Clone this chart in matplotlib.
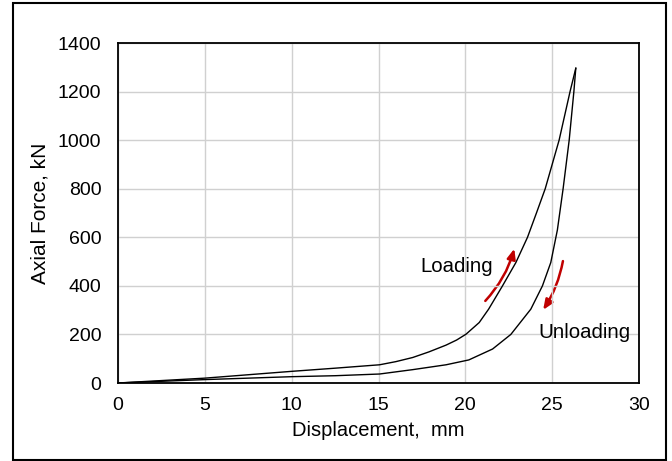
import matplotlib.pyplot as plt
from matplotlib.patches import Rectangle, FancyArrowPatch

plt.rcParams['font.family'] = ['Liberation Sans', 'DejaVu Sans']

# loading branch (displacement mm, axial force kN)
load_disp = [0, 1.0, 2.5, 5, 7.5, 10, 12.5, 15.06, 16.0, 16.97, 17.9, 18.89, 19.5, 20.04,
             20.8, 21.34, 22.14, 22.91, 23.58, 24.1, 24.6, 25.4, 26.03, 26.36]
load_force = [0, 4, 10, 20, 34, 48, 61, 75, 88, 105, 128, 156, 177, 201,
              249, 304, 400, 496, 600, 701, 800, 1000, 1200, 1296]

# unloading branch
unload_disp = [26.36, 26.25, 25.98, 25.63, 25.3, 24.92, 24.44, 23.77, 22.62, 21.57,
               20.2, 18.89, 16.97, 15.06, 12.5, 10, 7.5, 5, 2.5, 1.0, 0]
unload_force = [1296, 1200, 1000, 800, 630, 496, 400, 304, 200, 140,
                95, 75, 55, 37, 30, 26, 20, 14, 7, 3, 0]

x_ticks = [0, 5, 10, 15, 20, 25, 30]
y_ticks = [0, 200, 400, 600, 800, 1000, 1200, 1400]

fig = plt.figure(figsize=(6.72, 4.61), dpi=100)
ax = fig.add_axes([118/672, 78/461, 521/672, 340/461])

ax.plot(load_disp, load_force, color='black', lw=1.0)
ax.plot(unload_disp, unload_force, color='black', lw=1.0)

ax.set_xlim(0, 30)
ax.set_ylim(0, 1400)
ax.set_xticks(x_ticks)
ax.set_yticks(y_ticks)
ax.tick_params(length=0, labelsize=14)
ax.tick_params(axis='x', pad=10)
ax.tick_params(axis='y', pad=12)
ax.grid(True, color='#d0d0d0', lw=1.0)
for s in ax.spines.values():
    s.set_linewidth(1.3)
ax.set_xlabel('Displacement,  mm', fontsize=14.5, labelpad=5)
ax.set_ylabel('Axial Force, kN', fontsize=15, labelpad=6)

# direction arrows
red = '#c00000'
ax.add_patch(FancyArrowPatch((21.15, 338), (22.82, 553), connectionstyle='arc3,rad=0.12',
                             arrowstyle='-|>,head_length=6,head_width=2.5', color=red, lw=1.8,
                             shrinkA=0, shrinkB=0))
ax.add_patch(FancyArrowPatch((25.62, 502), (24.48, 301), connectionstyle='arc3,rad=-0.1',
                             arrowstyle='-|>,head_length=6,head_width=2.5', color=red, lw=1.8,
                             shrinkA=0, shrinkB=0))
ax.text(19.5, 481, 'Loading', fontsize=14.7, ha='center', va='center')
ax.text(26.84, 209, 'Unloading', fontsize=14.7, ha='center', va='center')

# outer frame
fig.patches.append(Rectangle((13/672, 1/461), 653/672, 457/461, transform=fig.transFigure,
                             fill=False, edgecolor='black', lw=1.5))

fig.savefig('out.png', dpi=100)
